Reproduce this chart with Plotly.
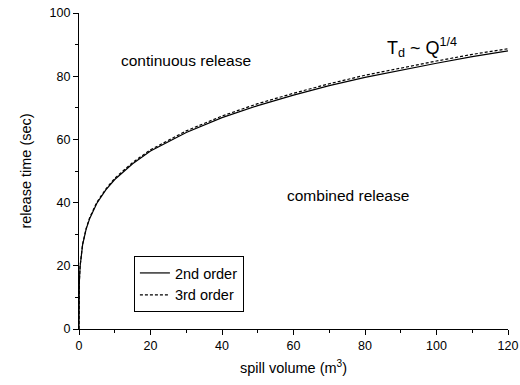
import plotly.graph_objects as go

# spill volume (m^3)
q = [0, 0.005, 0.02, 0.1, 0.3, 0.5, 1, 2, 3, 5, 7.5, 10, 15, 20, 30, 40, 50,
     60, 70, 80, 90, 100, 110, 120]
# release time (sec), 2nd order
t2 = [0, 7.1, 10.0, 15.0, 19.7, 22.4, 26.6, 31.6, 35.0, 39.8, 44.0, 47.3, 52.3,
      56.3, 62.2, 66.9, 70.7, 74.0, 77.0, 79.6, 81.9, 84.1, 86.2, 88.0]
# release time (sec), 3rd order
t3 = [0, 7.1, 10.0, 15.0, 19.8, 22.5, 26.8, 31.8, 35.3, 40.1, 44.3, 47.7, 52.7,
      56.7, 62.7, 67.4, 71.3, 74.6, 77.6, 80.3, 82.6, 84.8, 86.9, 88.7]

font = "Arial, Liberation Sans, sans-serif"

fig = go.Figure()
fig.add_trace(go.Scatter(x=q, y=t2, mode="lines", name="2nd order",
                         line=dict(color="black", width=1.2)))
fig.add_trace(go.Scatter(x=q, y=t3, mode="lines", name="3rd order",
                         line=dict(color="black", width=1.2, dash="3px,2px")))

axis_common = dict(showgrid=False, zeroline=False, showline=True,
                   linecolor="black", linewidth=1.2, ticks="outside",
                   ticklen=5, tickwidth=1.2, tickcolor="black",
                   automargin=False,
                   tickfont=dict(family=font, size=12.5, color="black"),
                   minor=dict(ticks="outside", ticklen=3, tickwidth=1,
                              tickcolor="black", dtick=10))

fig.update_xaxes(range=[0, 120], dtick=20, tick0=0,
                 title=dict(text="spill volume (m<sup>3</sup>)",
                            font=dict(family=font, size=14.5, color="black"),
                            standoff=10),
                 **axis_common)
fig.update_yaxes(range=[0, 100], dtick=20, tick0=0,
                 title=dict(text="release time (sec)",
                            font=dict(family=font, size=14.5, color="black"),
                            standoff=14),
                 **axis_common)

fig.add_annotation(x=0.093, y=0.851, xref="paper", yref="paper",
                   text="continuous release", showarrow=False,
                   xanchor="left", yanchor="middle",
                   font=dict(family=font, size=15.5, color="black"))
fig.add_annotation(x=0.48, y=0.424, xref="paper", yref="paper",
                   text="combined release", showarrow=False,
                   xanchor="left", yanchor="middle",
                   font=dict(family=font, size=15.5, color="black"))
fig.add_annotation(x=0.713, y=0.89, xref="paper", yref="paper",
                   text="T<sub>d</sub> ~ Q<sup>1/4</sup>", showarrow=False,
                   xanchor="left", yanchor="middle",
                   font=dict(family=font, size=18, color="black"))

fig.update_layout(
    width=520, height=385,
    margin=dict(l=79, r=12, t=13, b=56, autoexpand=False),
    paper_bgcolor="white", plot_bgcolor="white",
    showlegend=True,
    legend=dict(x=0.128, y=0.231, xanchor="left", yanchor="top",
                bordercolor="black", borderwidth=1, bgcolor="white",
                font=dict(family=font, size=14.5, color="black"),
                tracegroupgap=0, itemwidth=30),
)

fig.write_html("out.html")
